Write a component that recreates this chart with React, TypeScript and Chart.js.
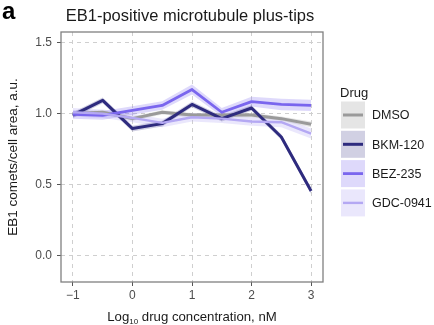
import React, { useEffect, useRef } from "react";
import { Chart, registerables } from "chart.js";

Chart.register(...registerables);

const concentrations = [-1, -0.5, 0, 0.5, 1, 1.5, 2, 2.5, 3];
const drugNames = ["DMSO", "BKM-120", "BEZ-235", "GDC-0941"];

const dmsoMean = [1.0, 1.01, 0.965, 1.01, 0.99, 0.99, 0.99, 0.965, 0.925];
const dmsoLow = [0.985, 0.995, 0.95, 0.995, 0.975, 0.975, 0.975, 0.95, 0.905];
const dmsoHigh = [1.015, 1.025, 0.98, 1.025, 1.005, 1.005, 1.005, 0.98, 0.945];

const bkmMean = [0.99, 1.094, 0.895, 0.93, 1.065, 0.965, 1.04, 0.836, 0.455];
const bkmLow = [0.97, 1.074, 0.875, 0.91, 1.045, 0.945, 1.02, 0.816, 0.435];
const bkmHigh = [1.01, 1.114, 0.915, 0.95, 1.085, 0.985, 1.06, 0.856, 0.475];

const bezMean = [0.995, 0.988, 1.023, 1.058, 1.17, 1.01, 1.085, 1.065, 1.058];
const bezLow = [0.965, 0.958, 0.993, 1.028, 1.135, 0.98, 1.05, 1.025, 1.018];
const bezHigh = [1.025, 1.018, 1.053, 1.088, 1.205, 1.04, 1.12, 1.105, 1.098];

const gdcMean = [1.01, 1.0, 0.97, 0.935, 0.975, 0.965, 0.945, 0.94, 0.86];
const gdcLow = [0.98, 0.97, 0.94, 0.905, 0.945, 0.935, 0.915, 0.905, 0.825];
const gdcHigh = [1.04, 1.03, 1.0, 0.965, 1.005, 0.995, 0.975, 0.975, 0.895];

const xTickValues = [-1, 0, 1, 2, 3];
const yTickValues = [0, 0.5, 1.0, 1.5];

const lineColors = ["#9a9a9a", "#2e2b7e", "#7a66ee", "#b4a8f3"];
const bandColors = [
  "rgba(150,150,150,0.25)",
  "rgba(46,43,126,0.22)",
  "rgba(122,102,238,0.25)",
  "rgba(180,168,243,0.28)",
];
const lineWidths = [3, 3, 2.8, 2.4];

const FONT = "'Liberation Sans', Arial, Helvetica, sans-serif";

const pts = (ys: number[]) => concentrations.map((x, i) => ({ x, y: ys[i] }));

const overlay = {
  id: "overlay",
  afterDraw(chart: any) {
    const ctx = chart.ctx as CanvasRenderingContext2D;
    const a = chart.chartArea;
    ctx.save();
    // panel border
    ctx.strokeStyle = "#808080";
    ctx.lineWidth = 1.3;
    ctx.strokeRect(a.left, a.top, a.right - a.left, a.bottom - a.top);

    // panel label
    ctx.fillStyle = "#000";
    ctx.font = `bold 24px ${FONT}`;
    ctx.textBaseline = "alphabetic";
    ctx.textAlign = "left";
    ctx.fillText("a", 2, 19);

    // title
    ctx.font = `16.5px ${FONT}`;
    ctx.textAlign = "center";
    ctx.fillStyle = "#1a1a1a";
    ctx.fillText("EB1-positive microtubule plus-tips", (a.left + a.right) / 2 - 2, 21);

    // y title
    ctx.save();
    ctx.translate(17, (a.top + a.bottom) / 2);
    ctx.rotate(-Math.PI / 2);
    ctx.font = `13.5px ${FONT}`;
    ctx.textAlign = "center";
    ctx.fillStyle = "#1a1a1a";
    ctx.fillText("EB1 comets/cell area, a.u.", 0, 0);
    ctx.restore();

    // x title with subscript
    const base = 321;
    const p1 = "Log";
    const sub = "10";
    const p2 = " drug concentration, nM";
    ctx.font = `13.2px ${FONT}`;
    const w1 = ctx.measureText(p1).width;
    const w3 = ctx.measureText(p2).width;
    ctx.font = `8px ${FONT}`;
    const w2 = ctx.measureText(sub).width;
    const total = w1 + w2 + w3;
    const x0 = (a.left + a.right) / 2 - total / 2;
    ctx.textAlign = "left";
    ctx.fillStyle = "#1a1a1a";
    ctx.font = `13.2px ${FONT}`;
    ctx.fillText(p1, x0, base);
    ctx.font = `8px ${FONT}`;
    ctx.fillText(sub, x0 + w1, base + 3);
    ctx.font = `13.2px ${FONT}`;
    ctx.fillText(p2, x0 + w1 + w2, base);

    // legend
    ctx.font = `13px ${FONT}`;
    ctx.fillStyle = "#1a1a1a";
    ctx.textBaseline = "middle";
    ctx.fillText("Drug", 340, 93);
    const keyX = 341;
    const keyW = 24;
    const keyH = 27;
    drugNames.forEach((name, i) => {
      const cy = 115 + i * 29.3;
      ctx.fillStyle = "#ffffff";
      ctx.fillRect(keyX, cy - keyH / 2, keyW, keyH);
      ctx.fillStyle = bandColors[i];
      ctx.fillRect(keyX, cy - keyH / 2, keyW, keyH);
      ctx.strokeStyle = lineColors[i];
      ctx.lineWidth = lineWidths[i];
      ctx.beginPath();
      ctx.moveTo(keyX + 2, cy);
      ctx.lineTo(keyX + keyW - 2, cy);
      ctx.stroke();
      ctx.fillStyle = "#1a1a1a";
      ctx.font = `12.5px ${FONT}`;
      ctx.fillText(name, 372, cy + 1);
    });
    ctx.restore();
  },
};

export default function App() {
  const ref = useRef<HTMLCanvasElement | null>(null);

  useEffect(() => {
    if (!ref.current) return;
    const means = [dmsoMean, bkmMean, bezMean, gdcMean];
    const lows = [dmsoLow, bkmLow, bezLow, gdcLow];
    const highs = [dmsoHigh, bkmHigh, bezHigh, gdcHigh];

    const datasets: any[] = [];
    means.forEach((_, i) => {
      datasets.push({
        label: drugNames[i] + " low",
        data: pts(lows[i]),
        borderWidth: 0,
        pointRadius: 0,
        fill: false,
        order: 20 + i,
        borderColor: "rgba(0,0,0,0)",
      });
      datasets.push({
        label: drugNames[i] + " high",
        data: pts(highs[i]),
        borderWidth: 0,
        pointRadius: 0,
        fill: "-1",
        backgroundColor: bandColors[i],
        order: 20 + i,
        borderColor: "rgba(0,0,0,0)",
      });
    });
    means.forEach((m, i) => {
      datasets.push({
        label: drugNames[i],
        data: pts(m),
        borderColor: lineColors[i],
        borderWidth: lineWidths[i],
        pointRadius: 0,
        fill: false,
        tension: 0,
        borderJoinStyle: "round",
        borderCapStyle: "butt",
        order: 10 - i,
      });
    });

    const gridCommon = {
      color: "#cfcfcf",
      lineWidth: 1,
      drawTicks: true,
      tickLength: 4,
      tickColor: "#555555",
      tickWidth: 1,
      tickBorderDash: [],
    };

    const chart = new Chart(ref.current, {
      type: "line",
      data: { datasets },
      options: {
        animation: false,
        responsive: false,
        layout: { padding: { top: 32, right: 111, left: 0, bottom: 0 } },
        plugins: {
          legend: { display: false },
          title: { display: false },
          tooltip: { enabled: false },
        },
        scales: {
          x: {
            type: "linear",
            min: -1.2,
            max: 3.2,
            afterBuildTicks: (s: any) => {
              s.ticks = xTickValues.map((v) => ({ value: v }));
            },
            afterFit: (s: any) => {
              s.height = 43;
            },
            grid: gridCommon as any,
            border: { display: false, dash: [4, 4] },
            ticks: {
              padding: 2,
              color: "#4d4d4d",
              font: { family: FONT, size: 12 },
              maxRotation: 0,
              callback: (v: any) => (Number(v) < 0 ? "\u2212" + Math.abs(Number(v)) : String(v)),
            },
          },
          y: {
            type: "linear",
            min: -0.185,
            max: 1.575,
            afterBuildTicks: (s: any) => {
              s.ticks = yTickValues.map((v) => ({ value: v }));
            },
            afterFit: (s: any) => {
              s.width = 61;
            },
            grid: gridCommon as any,
            border: { display: false, dash: [4, 4] },
            ticks: {
              padding: 5,
              color: "#4d4d4d",
              font: { family: FONT, size: 12 },
              callback: (v: any) => Number(v).toFixed(1),
            },
          },
        },
      },
      plugins: [overlay],
    });
    return () => chart.destroy();
  }, []);

  return (
    <div style={{ position: "absolute", left: 0, top: 0, width: 434, height: 325, background: "#fff" }}>
      <canvas ref={ref} width={434} height={325} style={{ width: 434, height: 325 }} />
    </div>
  );
}
